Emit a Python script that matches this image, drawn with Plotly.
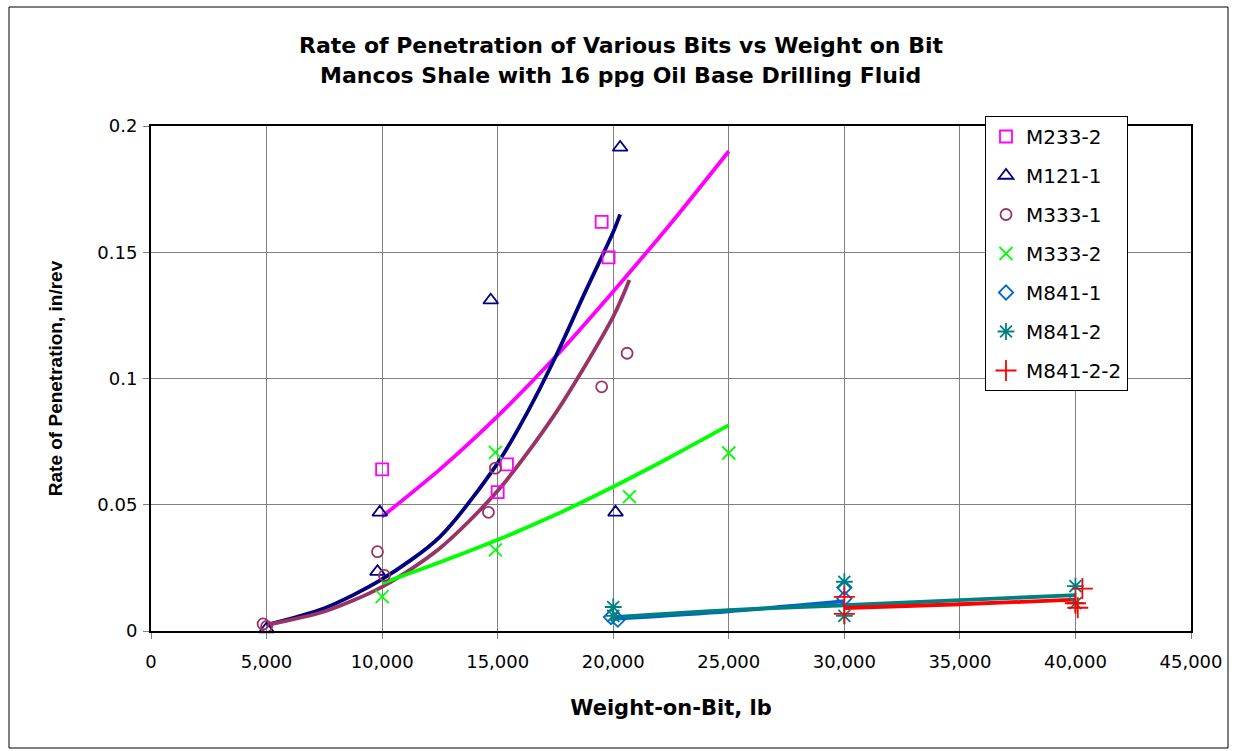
import plotly.graph_objects as go

# ---------------- data ----------------
series_names = ["M233-2", "M121-1", "M333-1", "M333-2", "M841-1", "M841-2", "M841-2-2"]

m233_2_x = [10000, 15400, 15000, 19500, 19800]
m233_2_y = [0.064, 0.066, 0.055, 0.162, 0.148]

m121_1_x = [5000, 9800, 9900, 14700, 20100, 20300]
m121_1_y = [0.0008, 0.0235, 0.047, 0.131, 0.047, 0.1915]

m333_1_x = [4850, 5000, 9800, 10100, 14600, 14900, 19500, 20600]
m333_1_y = [0.0028, 0.0018, 0.0314, 0.022, 0.047, 0.0645, 0.0967, 0.110]

m333_2_x = [10000, 14900, 14900, 20700, 25000]
m333_2_y = [0.0136, 0.0707, 0.0321, 0.0532, 0.0705]

m841_1_x = [19900, 20200, 30000, 30000]
m841_1_y = [0.0055, 0.0045, 0.0172, 0.0128]

m841_2_x = [20000, 20000, 30000, 30000, 40000, 40000]
m841_2_y = [0.0095, 0.0060, 0.0195, 0.0060, 0.0178, 0.0110]

m841_2_2_x = [30000, 30000, 40300, 40000, 40100]
m841_2_2_y = [0.0135, 0.0068, 0.0168, 0.0110, 0.0092]

# trend lines
t233_2_x = [10000, 12500, 15000, 17500, 20000, 22500, 25000]
t233_2_y = [0.0453, 0.0640, 0.0851, 0.1086, 0.1345, 0.1615, 0.1900]

t121_1_x = [5000, 7500, 10000, 12500, 15000, 16250, 17500, 18750, 20000, 20300]
t121_1_y = [0.0024, 0.0090, 0.0205, 0.0373, 0.0665, 0.0860, 0.1085, 0.1335, 0.1580, 0.1650]

t333_1_x = [5000, 7500, 10000, 12500, 15000, 17500, 20000, 20700]
t333_1_y = [0.0024, 0.0077, 0.0175, 0.0328, 0.0555, 0.0862, 0.1245, 0.1390]

t333_2_x = [10000, 12500, 15000, 17500, 20000, 22500, 25000]
t333_2_y = [0.0189, 0.0272, 0.0361, 0.0460, 0.0571, 0.0690, 0.0815]

t841_1_x = [20000, 25000, 30000]
t841_1_y = [0.0048, 0.0078, 0.0118]

t841_2_x = [20000, 25000, 30000, 35000, 40000]
t841_2_y = [0.0055, 0.0083, 0.0102, 0.0122, 0.0142]

t841_2_2_x = [30000, 35000, 40000]
t841_2_2_y = [0.0091, 0.0106, 0.0124]

x_tick_vals = [0, 5000, 10000, 15000, 20000, 25000, 30000, 35000, 40000, 45000]
x_tick_text = ["0", "5,000", "10,000", "15,000", "20,000", "25,000", "30,000", "35,000", "40,000", "45,000"]
y_tick_vals = [0, 0.05, 0.1, 0.15, 0.2]
y_tick_text = ["0", "0.05", "0.1", "0.15", "0.2"]

# ---------------- styling ----------------
colors = ["#FF00FF", "#000080", "#993366", "#00FF00", "#0066CC", "#008080", "#FF0000"]
symbols = ["square-open", "triangle-up-open", "circle-open", "x-thin-open",
           "diamond-open", "asterisk-open", "cross-thin-open"]
sizes = [12, 13, 11, 13, 11, 14, 15]

points = [(m233_2_x, m233_2_y), (m121_1_x, m121_1_y), (m333_1_x, m333_1_y),
          (m333_2_x, m333_2_y), (m841_1_x, m841_1_y), (m841_2_x, m841_2_y),
          (m841_2_2_x, m841_2_2_y)]
trends = [(t233_2_x, t233_2_y), (t121_1_x, t121_1_y), (t333_1_x, t333_1_y),
          (t333_2_x, t333_2_y), (t841_1_x, t841_1_y), (t841_2_x, t841_2_y),
          (t841_2_2_x, t841_2_2_y)]

fig = go.Figure()

for name, (tx, ty), c in zip(series_names, trends, colors):
    fig.add_trace(go.Scatter(
        x=tx, y=ty, mode="lines", name=name + " trend", legendgroup=name,
        showlegend=False, line=dict(color=c, width=3.8, shape="spline", smoothing=0.8),
        hoverinfo="skip", cliponaxis=False))

for name, (px, py), c, s, sz in zip(series_names, points, colors, symbols, sizes):
    fig.add_trace(go.Scatter(
        x=px, y=py, mode="markers", name=name, legendgroup=name,
        marker=dict(symbol=s, size=sz, color=c, line=dict(color=c, width=1.8)),
        cliponaxis=False))

# plot area in px: x 151..1191, y 126..631
L, R, T, B = 151, 1191, 126, 631
W, H = 1238, 751
pw, ph = R - L, B - T

def px_x(p):
    return (p - L) / pw

def px_y(p):
    return (B - p) / ph

fig.update_layout(
    width=W, height=H,
    margin=dict(l=L, r=W - R, t=T, b=H - B),
    paper_bgcolor="white", plot_bgcolor="white",
    font=dict(family="DejaVu Sans", size=18, color="black"),
    showlegend=True,
    legend=dict(
        x=px_x(985), y=px_y(116), xanchor="left", yanchor="top",
        bgcolor="white", bordercolor="black", borderwidth=1,
        font=dict(family="DejaVu Sans", size=20, color="black"),
        tracegroupgap=10, traceorder="grouped",
    ),
    xaxis=dict(
        range=[0, 45000], tickvals=x_tick_vals, ticktext=x_tick_text,
        showgrid=True, gridcolor="#808080", gridwidth=1,
        showline=True, linecolor="black", linewidth=2, mirror=True,
        ticks="outside", ticklen=6, tickcolor="#808080", tickwidth=1,
        ticklabelstandoff=7,
        tickfont=dict(family="DejaVu Sans", size=18, color="black"),
        zeroline=False,
        title=dict(text="<b>Weight-on-Bit, lb</b>", standoff=30,
                   font=dict(family="DejaVu Sans", size=21, color="black")),
    ),
    yaxis=dict(
        range=[0, 0.2], tickvals=y_tick_vals, ticktext=y_tick_text,
        showgrid=True, gridcolor="#808080", gridwidth=1,
        showline=True, linecolor="black", linewidth=2, mirror=True,
        ticks="outside", ticklen=6, tickcolor="#808080", tickwidth=1,
        ticklabelstandoff=2,
        tickfont=dict(family="DejaVu Sans", size=18, color="black"),
        zeroline=False,
        title=dict(text="<b>Rate of Penetration, in/rev</b>", standoff=30,
                   font=dict(family="Liberation Sans", size=19, color="black")),
    ),
    annotations=[
        dict(text="<b>Rate of Penetration of Various Bits vs Weight on Bit</b>",
             xref="paper", yref="paper", x=px_x(621), y=px_y(45),
             xanchor="center", yanchor="middle", showarrow=False,
             font=dict(family="DejaVu Sans", size=22, color="black")),
        dict(text="<b>Mancos Shale with 16 ppg Oil Base Drilling Fluid</b>",
             xref="paper", yref="paper", x=px_x(620), y=px_y(76),
             xanchor="center", yanchor="middle", showarrow=False,
             font=dict(family="DejaVu Sans", size=22, color="black")),
    ],
    shapes=[
        dict(type="rect", xref="paper", yref="paper",
             x0=px_x(9), x1=px_x(1228), y0=px_y(748), y1=px_y(7),
             line=dict(color="black", width=1), fillcolor="rgba(0,0,0,0)", layer="below"),
    ],
)

fig.write_html("out.html")
